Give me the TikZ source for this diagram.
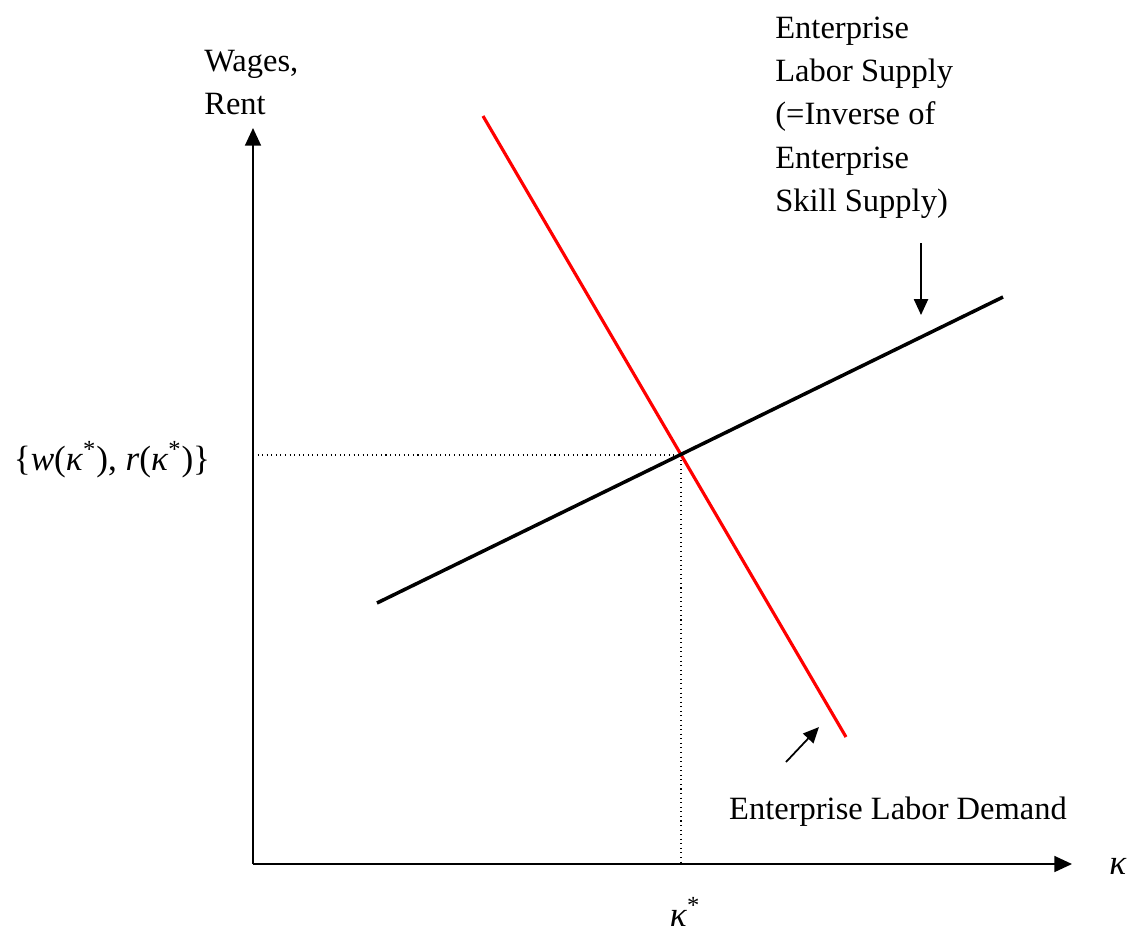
\documentclass[tikz,border=0pt]{standalone}
\usepackage{fontspec}
\setmainfont{Liberation Serif}
\usetikzlibrary{arrows.meta}
\begin{document}
\begin{tikzpicture}[x=0.02cm,y=-0.02cm,
  axis/.style={line width=1.1pt,-{Triangle[length=10pt,width=9pt]}},
  pointer/.style={line width=1pt,-{Triangle[length=9pt,width=8pt]}},
  lbl/.style={font=\fontsize{18.5}{24.5}\selectfont,inner sep=0pt},
  mlbl/.style={font=\fontsize{20}{24.5}\selectfont,inner sep=0pt},
  guide/.style={line width=0.6pt,dotted}]
\useasboundingbox (0,0) rectangle (1139,934);
\coordinate (O) at (253,864);
\coordinate (Ytop) at (253,128);
\coordinate (Xend) at (1072,864);
\coordinate (D1) at (483,116);
\coordinate (D2) at (846,737);
\coordinate (S1) at (377,603);
\coordinate (S2) at (1003,297);
\coordinate (E) at (681,455);
\coordinate (Ey) at (253,455);
\coordinate (Ex) at (681,864);
\draw[guide] (Ey) -- (E);
\draw[guide] (E) -- (Ex);
\draw[axis] (O) -- (Ytop);
\draw[axis] (O) -- (Xend);
\draw[red,line width=1.8pt] (D1) -- (D2);
\draw[black,line width=2pt] (S1) -- (S2);
\node[lbl,align=left,anchor=north west] (ylab) at (204,50) {Wages,\\Rent};
\node[mlbl] (wr) at (112,460) {\{\textit{w}(\textit{κ}\textsuperscript{*}), \textit{r}(\textit{κ}\textsuperscript{*})\}};
\node[mlbl] (kap) at (1118,866) {\textit{κ}};
\node[mlbl] (kstar) at (685,912) {\textit{κ}\textsuperscript{*}};
\node[lbl,align=left,anchor=north west] (slab) at (775,17) {Enterprise\\Labor Supply\\(=Inverse of\\Enterprise\\Skill Supply)};
\node[lbl] (dlab) at (898,812) {Enterprise Labor Demand};
\coordinate (sa1) at (921,243);
\coordinate (sa2) at (921,315);
\coordinate (da1) at (786,762);
\coordinate (da2) at (819,727);
\draw[pointer] (sa1) -- (sa2);
\draw[pointer] (da1) -- (da2);
\end{tikzpicture}
\end{document}
